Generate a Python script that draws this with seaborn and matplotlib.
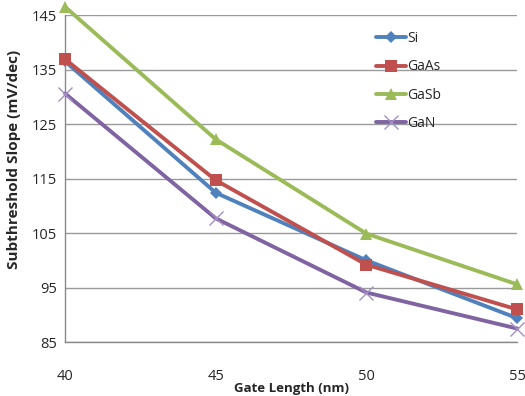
import matplotlib
matplotlib.use("Agg")
import matplotlib.pyplot as plt
import seaborn as sns
import pandas as pd

gate_length = [40, 45, 50, 55]
si = [136.5, 112.4, 100.0, 89.4]
gaas = [136.9, 114.7, 99.2, 91.0]
gasb = [146.5, 122.2, 104.9, 95.6]
gan = [130.6, 107.7, 94.1, 87.5]
series_names = ["Si", "GaAs", "GaSb", "GaN"]
y_ticks = [85, 95, 105, 115, 125, 135, 145]
x_ticks = [40, 45, 50, 55]

rows = []
for name, vals in zip(series_names, [si, gaas, gasb, gan]):
    for x, v in zip(gate_length, vals):
        rows.append({"Gate Length (nm)": x, "value": v, "series": name})
df = pd.DataFrame(rows)

sns.set_theme(style="white")
plt.rcParams["font.family"] = ["Open Sans", "DejaVu Sans"]

fig = plt.figure(figsize=(5.25, 3.96), dpi=100)
ax = fig.add_axes([0.124, 0.136, 0.861, 0.826])

palette = {"Si": "#4F81BD", "GaAs": "#C0504D", "GaSb": "#9BBB59", "GaN": "#8064A2"}
markers = {"Si": "D", "GaAs": "s", "GaSb": "^", "GaN": "x"}
sizes = {"Si": 6, "GaAs": 8, "GaSb": 8, "GaN": 10}

for name in series_names:
    sub = df[df.series == name]
    if name == "GaN":
        kw = dict(markeredgewidth=1.0, markeredgecolor="#A28FC4")
    else:
        kw = dict(markeredgewidth=0)
    sns.lineplot(data=sub, x="Gate Length (nm)", y="value", ax=ax,
                 color=palette[name], marker=markers[name], markersize=sizes[name],
                 linewidth=2.8, label=name, clip_on=False, zorder=3, **kw)

ax.set_xlim(40, 55)
ax.set_ylim(85, 145)
ax.set_yticks(y_ticks)
ax.set_xticks(x_ticks)
ax.yaxis.grid(True, color="#9a9a9a", linewidth=1)
ax.set_axisbelow(True)
for s in ["top", "right"]:
    ax.spines[s].set_visible(False)
for s in ["left", "bottom"]:
    ax.spines[s].set_color("#8a8a8a")
    ax.spines[s].set_linewidth(1)
ax.tick_params(axis="x", direction="out", length=5, color="#8a8a8a", pad=14, labelsize=10.5)
ax.tick_params(axis="y", direction="out", length=4, color="#8a8a8a", pad=2, labelsize=10.5)
ax.set_xlabel("Gate Length (nm)", fontsize=9.5, fontweight="bold", labelpad=-1)
ax.set_ylabel("Subthreshold Slope (mV/dec)", fontsize=11, fontweight="bold")
ax.yaxis.set_label_coords(-0.098, 0.56)

leg = ax.legend(loc="upper left", bbox_to_anchor=(0.705, 0.935), bbox_transform=fig.transFigure,
                frameon=False, fontsize=10, handlelength=2.2, labelspacing=0.95,
                handletextpad=0.1, borderaxespad=0)

fig.savefig("out.png", dpi=100)
